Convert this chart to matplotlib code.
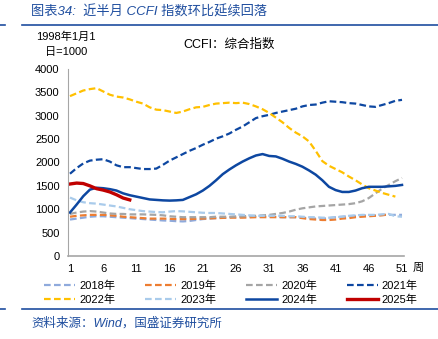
import matplotlib
matplotlib.use('Agg')
import matplotlib.pyplot as plt
from matplotlib.lines import Line2D

plt.rcParams['font.family'] = ['Liberation Sans', 'Noto Sans CJK SC', 'DejaVu Sans']

# 周次
weeks = list(range(1, 52))

y2018 = [780, 800, 820, 840, 850, 850, 840, 830, 820, 810, 800, 790, 780, 770, 760, 755, 745, 740, 750, 770,
         790, 800, 810, 820, 830, 840, 840, 845, 850, 850, 850, 840, 830, 830, 830, 820, 810, 800, 800, 810,
         830, 840, 850, 860, 870, 870, 870, 880, 880, 880, 880]
y2019 = [840, 860, 870, 880, 880, 880, 870, 860, 840, 830, 820, 810, 800, 800, 800, 795, 790, 790, 790, 795,
         800, 805, 810, 815, 820, 820, 820, 825, 830, 830, 830, 830, 830, 830, 830, 810, 790, 780, 770, 770,
         780, 800, 810, 830, 840, 850, 860, 870, 890]
y2020 = [900, 930, 950, 960, 950, 930, 910, 900, 900, 890, 890, 890, 885, 880, 870, 850, 840, 830, 830, 830,
         830, 830, 840, 840, 840, 845, 850, 855, 860, 870, 880, 900, 920, 950, 990, 1020, 1040, 1060, 1070, 1080,
         1090, 1100, 1110, 1130, 1170, 1240, 1340, 1440, 1520, 1600, 1670]
y2021 = [1760, 1880, 1980, 2040, 2060, 2070, 2020, 1940, 1900, 1900, 1880, 1860, 1860, 1870, 1950, 2040, 2110,
         2180, 2250, 2310, 2380, 2440, 2510, 2560, 2620, 2700, 2770, 2860, 2950, 2990, 3020, 3060, 3090, 3120,
         3150, 3200, 3230, 3240, 3280, 3310, 3300, 3290, 3270, 3260, 3230, 3200, 3190, 3230, 3270, 3320, 3340]
y2022 = [3420, 3480, 3540, 3570, 3590, 3520, 3450, 3410, 3390, 3350, 3300, 3260, 3180, 3130, 3120, 3090, 3060,
         3090, 3140, 3180, 3190, 3230, 3260, 3270, 3280, 3270, 3280, 3250, 3200, 3140, 3060, 2960, 2860, 2740,
         2640, 2560, 2450, 2250, 2030, 1930, 1860, 1790, 1700, 1620, 1530, 1450, 1400, 1350, 1310, 1270]
y2023 = [1250, 1190, 1150, 1130, 1120, 1100, 1080, 1060, 1030, 1000, 980, 960, 950, 940, 935, 950, 960, 955, 945,
         935, 925, 920, 920, 910, 900, 890, 880, 870, 860, 860, 860, 860, 860, 850, 850, 840, 830, 830, 820, 820,
         830, 840, 860, 870, 880, 880, 880, 890, 900, 850, 840]
y2024 = [930, 1100, 1280, 1420, 1460, 1450, 1430, 1400, 1340, 1300, 1270, 1240, 1210, 1200, 1190, 1185, 1190,
         1200, 1260, 1320, 1400, 1500, 1620, 1750, 1850, 1940, 2020, 2090, 2150, 2180, 2140, 2130, 2080, 2020,
         1970, 1910, 1830, 1740, 1620, 1480, 1410, 1370, 1370, 1400, 1450, 1480, 1480, 1480, 1490, 1500, 1520]
y2025 = [1540, 1560, 1550, 1500, 1440, 1410, 1370, 1310, 1240, 1200]

series = [
    ('2018年', y2018, '#8FAADC', (0, (3, 1.5)), 1.6),
    ('2019年', y2019, '#ED7D31', (0, (3, 1.5)), 1.6),
    ('2020年', y2020, '#A5A5A5', (0, (3, 1.5)), 1.6),
    ('2021年', y2021, '#0D47A1', (0, (3, 1.5)), 1.6),
    ('2022年', y2022, '#FFC000', (0, (3, 1.5)), 1.6),
    ('2023年', y2023, '#A9CBEB', (0, (3, 1.5)), 1.6),
    ('2024年', y2024, '#0D47A1', '-', 1.8),
    ('2025年', y2025, '#C00000', '-', 2.4),
]

fig = plt.figure(figsize=(4.38, 3.39), dpi=100)
ax = fig.add_axes([68 / 438, 83 / 339, 336 / 438, 187 / 339])

handles = []
for name, vals, color, ls, lw in series:
    ax.plot(weeks[:len(vals)], vals, color=color, linestyle=ls, linewidth=lw)
    handles.append(Line2D([], [], color=color, linestyle=ls, linewidth=lw, label=name))

ax.set_xlim(0.7, 51.3)
ax.set_ylim(0, 4000)
ax.set_xticks(range(1, 52, 5))
ax.set_yticks(range(0, 4001, 500))
ax.tick_params(length=0, labelsize=8, pad=6)
for s in ['top', 'right']:
    ax.spines[s].set_visible(False)
ax.spines['left'].set_color('#A6A6A6')
ax.spines['bottom'].set_color('#A6A6A6')
ax.spines['bottom'].set_linewidth(1.2)

fig.text(418 / 438, 1 - 268 / 339, '周', fontsize=8, ha='center', va='center')
fig.text(66 / 438, 1 - 37 / 339, '1998年1月1', fontsize=8, ha='center', va='center')
fig.text(66 / 438, 1 - 52 / 339, '日=1000', fontsize=8, ha='center', va='center')
fig.text(183 / 438, 1 - 45 / 339, 'CCFI：综合指数', fontsize=9, ha='left', va='center')

# 标题与来源
blue = '#1F4E9F'
fig.text(31 / 438, 1 - 12 / 339, '图表34:  近半月 CCFI 指数环比延续回落', fontsize=9.5,
         color=blue, style='italic', ha='left', va='center')
fig.text(31 / 438, 1 - 323 / 339, '资料来源：Wind，国盛证券研究所', fontsize=9,
         color=blue, style='italic', ha='left', va='center')
for yy in [25, 309]:
    fig.add_artist(Line2D([0, 5 / 438], [1 - yy / 339] * 2, color=blue, linewidth=1.2))
    fig.add_artist(Line2D([22 / 438, 1], [1 - yy / 339] * 2, color=blue, linewidth=1.2))

# 图例按行排列
order = [0, 4, 1, 5, 2, 6, 3, 7]
fig.legend(handles=[handles[i] for i in order], ncol=4, loc='center',
           bbox_to_anchor=(231 / 438, 1 - 293 / 339),
           frameon=False, fontsize=8, handlelength=2.8, handletextpad=0.35,
           columnspacing=2.7, labelspacing=0.3)

fig.savefig('out.png', dpi=100)
